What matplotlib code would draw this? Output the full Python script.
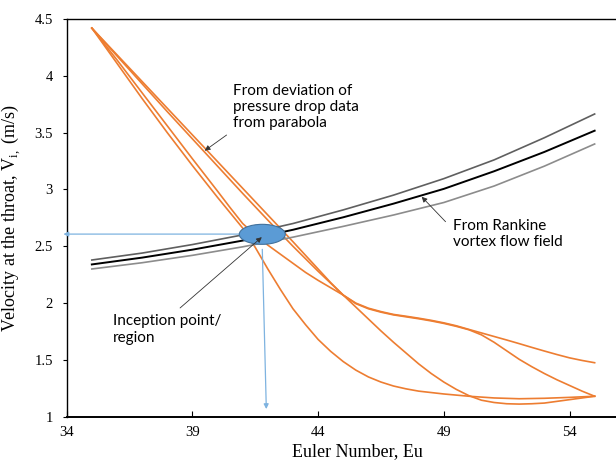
import matplotlib
matplotlib.use("Agg")
import matplotlib.pyplot as plt
from matplotlib.patches import Ellipse

# ---------------- data ----------------
x_ticks = [34, 39, 44, 49, 54]
y_ticks = [1, 1.5, 2, 2.5, 3, 3.5, 4, 4.5]

# Rankine vortex band
rank_x = [35, 37, 39, 41, 43, 45, 47, 49, 51, 53, 55]
rank_upper = [2.379, 2.44, 2.515, 2.60, 2.70, 2.82, 2.95, 3.095, 3.26, 3.455, 3.664]
rank_mid = [2.34, 2.40, 2.47, 2.55, 2.645, 2.755, 2.875, 3.005, 3.16, 3.33, 3.517]
rank_lower = [2.30, 2.355, 2.42, 2.495, 2.58, 2.675, 2.775, 2.885, 3.03, 3.205, 3.40]

# deviation-from-parabola curves
d_x = [35, 36, 37, 38, 39, 40, 41, 41.5, 42, 42.5, 43, 43.5, 44, 44.5, 45, 45.5,
       46, 46.5, 47, 47.5, 48, 49, 50, 51, 52, 53, 54, 55]
d_y = [4.42, 4.11, 3.80, 3.50, 3.21, 2.93, 2.66, 2.49, 2.30, 2.12, 1.95, 1.81,
       1.68, 1.575, 1.485, 1.41, 1.35, 1.305, 1.27, 1.245, 1.225, 1.20, 1.18,
       1.165, 1.158, 1.162, 1.17, 1.18]

xr_x = [35, 36, 37, 38, 39, 40, 40.5, 41, 41.5, 42, 42.5, 43, 43.5, 44, 44.5, 45,
        45.5, 46, 46.5, 47, 47.5, 48, 48.5, 49, 49.5, 50, 50.5, 51, 51.5, 52,
        52.5, 53, 53.5, 54, 54.5, 55]
xr_y = [4.42, 4.14, 3.85, 3.56, 3.27, 2.985, 2.84, 2.70, 2.60, 2.51, 2.43, 2.35,
        2.27, 2.20, 2.135, 2.07, 1.995, 1.95, 1.92, 1.896, 1.879, 1.862, 1.843,
        1.821, 1.795, 1.765, 1.72, 1.655, 1.58, 1.505, 1.44, 1.38, 1.325, 1.275,
        1.225, 1.18]

c_x = [35, 36, 37, 38, 39, 40, 41, 42, 43, 43.5, 44, 44.5, 45, 45.5, 46, 46.5, 47,
       47.5, 48, 48.5, 49, 49.5, 50, 50.5, 51, 51.5, 52, 52.5, 53, 53.5, 54, 54.5, 55]
c_y = [4.42, 4.185, 3.95, 3.715, 3.48, 3.245, 3.01, 2.775, 2.54, 2.42, 2.30, 2.18,
       2.07, 1.965, 1.86, 1.755, 1.655, 1.56, 1.465, 1.38, 1.305, 1.24, 1.185,
       1.145, 1.125, 1.114, 1.111, 1.114, 1.12, 1.135, 1.15, 1.165, 1.18]

a_x = [35, 36, 37, 38, 39, 40, 41, 42, 43, 44, 45, 45.5, 46, 46.5, 47, 47.5, 48,
       48.5, 49, 49.5, 50, 50.5, 51, 51.5, 52, 52.5, 53, 53.5, 54, 54.5, 55]
a_y = [4.42, 4.175, 3.93, 3.685, 3.445, 3.205, 2.965, 2.73, 2.50, 2.28, 2.07, 2.00,
       1.955, 1.925, 1.90, 1.884, 1.867, 1.848, 1.826, 1.80, 1.768, 1.737, 1.706,
       1.675, 1.643, 1.61, 1.578, 1.547, 1.518, 1.495, 1.475]

# ---------------- figure ----------------
fig = plt.figure(figsize=(6.16, 4.61), dpi=100)
ax = fig.add_axes([66.7 / 616, (461 - 416.7) / 461, (649 - 66.7) / 616, (416.7 - 19) / 461])
ax.set_xlim(34, 34 + (649 - 66.7) / 25.14)
ax.set_ylim(1, 4.5)

orange = "#ED7D31"
for xs, ys in [(d_x, d_y), (xr_x, xr_y), (c_x, c_y), (a_x, a_y)]:
    ax.plot(xs, ys, color=orange, lw=1.2, zorder=2, solid_joinstyle="round")

ax.plot(rank_x, rank_upper, color="#5f5f5f", lw=1.2, zorder=2)
ax.plot(rank_x, rank_mid, color="#000000", lw=1.4, zorder=2)
ax.plot(rank_x, rank_lower, color="#8c8c8c", lw=1.2, zorder=2)

# inception ellipse
ax.add_patch(Ellipse((41.78, 2.605), 1.83, 0.176, facecolor="#5B9BD5",
                     edgecolor="#41719C", lw=0.8, zorder=4))

blue = "#7EB3E0"
ax.annotate("", xy=(33.87, 2.607), xytext=(40.9, 2.607),
            arrowprops=dict(arrowstyle="-|>", color=blue, lw=0.9, mutation_scale=7,
                            shrinkA=0, shrinkB=0), annotation_clip=False, zorder=3)
ax.annotate("", xy=(41.94, 1.067), xytext=(41.78, 2.473),
            arrowprops=dict(arrowstyle="-|>", color=blue, lw=0.9, mutation_scale=7,
                            shrinkA=0, shrinkB=0), zorder=3)

txt_font = ["Lato", "DejaVu Sans"]
ax.text(40.63, 3.93, "From deviation of\npressure drop data\nfrom parabola",
        fontsize=11, family=txt_font, va="top", ha="left", linespacing=1.2)
ax.text(49.38, 2.74, "From Rankine\nvortex flow field",
        fontsize=11, family=txt_font, va="top", ha="left", linespacing=1.2)
ax.text(35.84, 1.90, "Inception point/\nregion",
        fontsize=11, family=txt_font, va="top", ha="left", linespacing=1.2)

arrow_kw = dict(arrowstyle="-|>", color="#333333", lw=0.6, mutation_scale=8,
                shrinkA=0, shrinkB=0)
ax.annotate("", xy=(39.49, 3.341), xytext=(40.36, 3.479), arrowprops=arrow_kw, zorder=5)
ax.annotate("", xy=(48.12, 2.936), xytext=(49.07, 2.716), arrowprops=arrow_kw, zorder=5)
ax.annotate("", xy=(41.76, 2.58), xytext=(38.51, 1.957), arrowprops=arrow_kw, zorder=5)

# axes styling
serif = ["Liberation Serif", "DejaVu Serif"]
ax.set_xticks(x_ticks)
ax.set_yticks(y_ticks)
ax.set_xticklabels([str(v) for v in x_ticks], family=serif, fontsize=10.5)
ax.set_yticklabels([("%g" % v) for v in y_ticks], family=serif, fontsize=10.5)
ax.tick_params(axis="x", direction="in", length=4, width=0.8, pad=7)
ax.tick_params(axis="y", direction="out", length=3, width=0.8, pad=7)
ax.spines["right"].set_visible(False)
ax.spines["left"].set_linewidth(1.0)
ax.spines["top"].set_linewidth(1.0)
ax.spines["bottom"].set_linewidth(1.4)
ax.set_xlabel("Euler Number, Eu", family=serif, fontsize=13, labelpad=3)
ax.set_ylabel("Velocity at the throat, V$_\\mathregular{i,}$ (m/s)", family=serif,
              fontsize=13, labelpad=8)

fig.savefig("out.png", dpi=100)
